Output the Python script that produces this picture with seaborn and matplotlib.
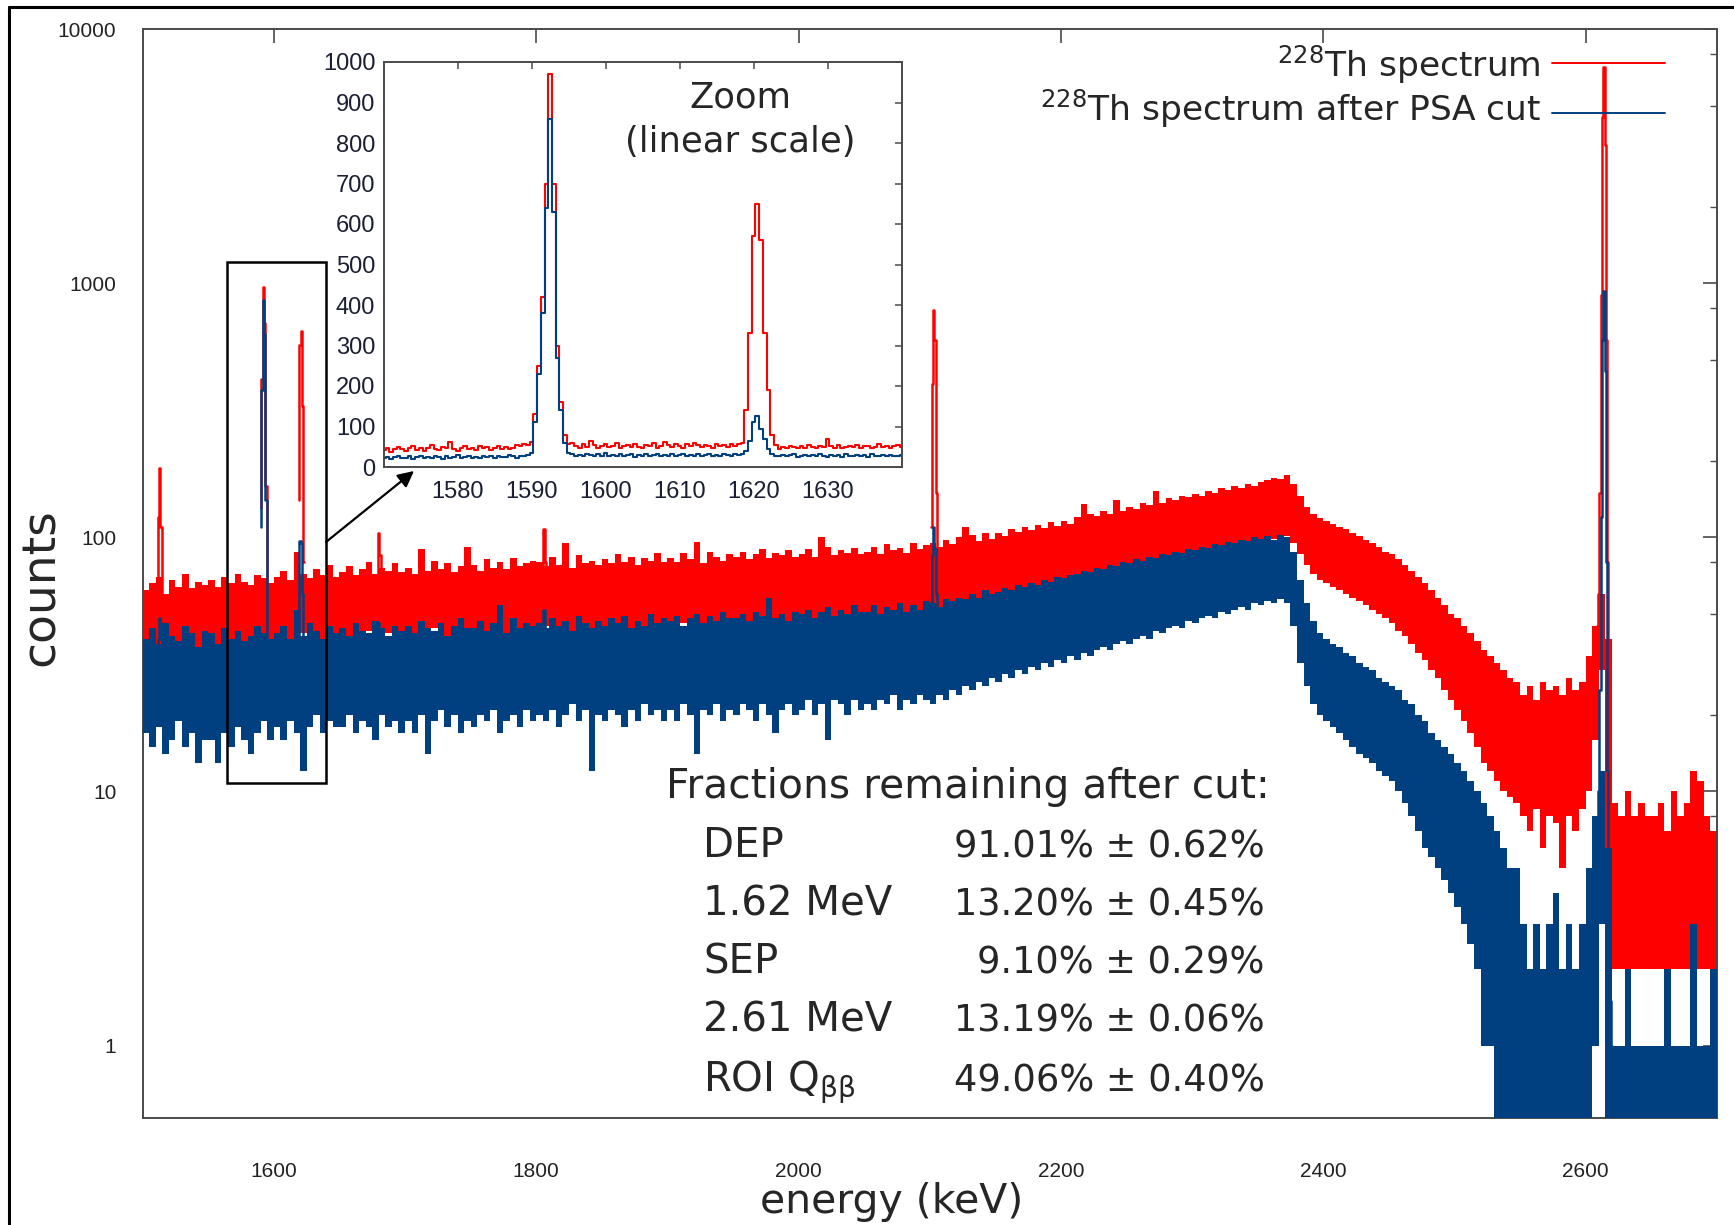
import numpy as np
import matplotlib
matplotlib.use("Agg")
import matplotlib.pyplot as plt
import seaborn as sns
from matplotlib.lines import Line2D
from matplotlib.patches import Rectangle
from matplotlib.ticker import FixedLocator, LogLocator, NullFormatter, NullLocator, FuncFormatter

# ---------------- data ----------------
# main spectrum: 5 keV bins from 1500 to 2700 keV, envelope (min / max counts) of each bin
bin_start_keV = 1500
bin_stop_keV = 2700
bin_width_keV = 5

red_lo = [34, 36, 38, 35, 37, 39, 36, 38, 35, 37,
          38, 36, 32, 37, 40, 38, 36, 39, 33, 40,
          39, 41, 38, 40, 42, 39, 41, 40, 38, 42,
          41, 39, 34, 40, 43, 41, 39, 42, 36, 43,
          42, 40, 43, 41, 44, 42, 40, 43, 41, 44,
          42, 44, 41, 36, 45, 42, 44, 41, 43, 45,
          43, 45, 42, 44, 46, 43, 45, 42, 44, 46,
          44, 42, 45, 43, 38, 44, 42, 45, 43, 46,
          45, 43, 46, 44, 47, 45, 43, 46, 44, 47,
          45, 47, 44, 39, 48, 45, 47, 44, 46, 48,
          46, 48, 45, 47, 49, 46, 48, 45, 47, 49,
          47, 49, 48, 50, 42, 49, 51, 48, 50, 49,
          50, 52, 49, 53, 51, 54, 52, 55, 53, 56,
          55, 57, 56, 58, 60, 59, 61, 60, 62, 64,
          63, 65, 64, 67, 66, 69, 68, 71, 70, 73,
          72, 75, 74, 77, 76, 79, 80, 82, 81, 84,
          84, 87, 86, 89, 90, 92, 91, 94, 95, 97,
          98, 100, 99, 102, 101, 95, 86, 78, 72, 68,
          66, 64, 62, 60, 58, 56, 54, 52, 50, 48,
          46, 43, 41, 38, 35, 33, 30, 28, 25, 23,
          21, 19, 17, 15, 13, 12, 11, 10, 9.5, 9,
          8, 7, 8.5, 6, 8, 7.5, 5, 8, 7, 8.5,
          10, 16, 30, 4, 2, 2, 2, 2, 2, 2,
          2, 2, 2, 2, 2, 2, 2, 2, 2, 2]

red_hi = [62, 66, 70, 60, 68, 64, 72, 63, 67, 65,
          68, 64, 70, 66, 72, 67, 65, 71, 69, 66,
          70, 74, 68, 88, 72, 69, 75, 71, 78, 70,
          73, 77, 71, 75, 80, 72, 76, 74, 79, 73,
          76, 72, 90, 74, 81, 75, 79, 73, 77, 92,
          78, 74, 82, 76, 80, 75, 83, 77, 79, 81,
          80, 77, 84, 78, 95, 76, 85, 79, 81, 78,
          82, 79, 86, 80, 84, 78, 83, 81, 87, 80,
          83, 80, 87, 82, 96, 79, 88, 84, 81, 86,
          84, 88, 82, 86, 90, 83, 87, 85, 89, 84,
          86, 90, 84, 100, 92, 85, 89, 87, 91, 86,
          88, 92, 86, 94, 89, 91, 87, 95, 90, 93,
          95, 92, 98, 94, 100, 110, 102, 97, 104, 99,
          104, 101, 108, 105, 110, 107, 112, 109, 115, 111,
          116, 113, 120, 135, 124, 121, 127, 124, 140, 127,
          132, 129, 136, 134, 152, 137, 143, 140, 146, 144,
          148, 146, 152, 150, 156, 154, 160, 157, 163, 160,
          166, 168, 172, 170, 176, 162, 145, 132, 124, 119,
          116, 113, 110, 108, 104, 101, 98, 95, 92, 88,
          86, 82, 78, 74, 70, 66, 62, 58, 54, 50,
          48, 45, 42, 39, 36, 34, 32, 30, 28, 27,
          24, 26, 23, 27, 25, 26, 24, 28, 25, 27,
          34, 45, 60, 40, 9, 8, 10, 8, 9, 8,
          8, 9, 7, 10, 8, 9, 12, 11, 8, 7]

blue_lo = [17, 15, 18, 14, 16, 19, 15, 17, 13, 16,
           16, 13, 17, 15, 18, 16, 14, 17, 19, 16,
           18, 16, 19, 17, 12, 18, 20, 17, 19, 18,
           18, 20, 17, 19, 18, 16, 20, 18, 19, 17,
           19, 17, 20, 14, 19, 21, 18, 20, 17, 19,
           18, 20, 19, 21, 17, 19, 20, 18, 21, 19,
           20, 19, 21, 18, 20, 22, 19, 21, 12, 20,
           19, 21, 20, 18, 21, 19, 22, 20, 21, 19,
           21, 19, 22, 20, 14, 21, 20, 22, 19, 21,
           20, 22, 21, 19, 22, 20, 17, 21, 22, 20,
           21, 23, 20, 22, 16, 23, 22, 20, 23, 21,
           22, 21, 23, 22, 24, 21, 23, 22, 24, 23,
           22, 24, 23, 25, 24, 26, 25, 27, 26, 28,
           27, 29, 28, 30, 29, 31, 30, 32, 31, 33,
           32, 34, 33, 35, 34, 36, 37, 36, 38, 39,
           38, 40, 41, 40, 43, 42, 44, 45, 44, 47,
           46, 48, 49, 48, 51, 50, 52, 53, 52, 55,
           54, 56, 55, 57, 55, 45, 32, 26, 22, 20,
           19, 18, 17, 16, 15, 14, 13.5, 13, 12, 11.5,
           11, 10, 9, 8, 7, 6, 5.5, 5, 4.5, 4,
           3.5, 3, 2.5, 2, 1, 1, 0.4, 0.4, 0.4, 0.4,
           0.4, 0.4, 0.4, 0.4, 0.4, 0.4, 0.4, 0.4, 0.4, 0.4,
           0.4, 1, 3, 0.4, 0.4, 0.4, 0.4, 0.4, 0.4, 0.4,
           0.4, 0.4, 0.4, 0.4, 0.4, 0.4, 0.4, 0.4, 0.4, 0.4]

blue_hi = [40, 44, 38, 46, 41, 39, 45, 42, 37, 43,
           42, 38, 44, 40, 43, 39, 41, 45, 42, 40,
           42, 45, 40, 52, 41, 46, 43, 40, 45, 42,
           44, 41, 46, 43, 42, 47, 44, 41, 45, 43,
           45, 42, 47, 44, 43, 46, 41, 45, 48, 44,
           44, 47, 43, 46, 54, 42, 48, 44, 46, 45,
           46, 44, 48, 45, 47, 43, 49, 46, 44, 47,
           45, 48, 46, 49, 44, 47, 45, 50, 46, 48,
           47, 49, 45, 48, 50, 46, 49, 47, 51, 48,
           48, 50, 47, 51, 49, 58, 48, 50, 47, 51,
           50, 52, 48, 51, 53, 49, 52, 50, 54, 51,
           51, 54, 50, 53, 52, 55, 51, 54, 52, 56,
           55, 53, 57, 56, 58, 57, 60, 58, 62, 60,
           61, 63, 62, 65, 64, 66, 65, 68, 67, 70,
           69, 71, 72, 74, 73, 76, 75, 78, 77, 80,
           79, 82, 81, 84, 83, 86, 85, 88, 87, 90,
           89, 92, 91, 94, 93, 96, 95, 98, 97, 100,
           99, 101, 98, 102, 100, 88, 68, 55, 47, 42,
           40, 38, 37, 35, 34, 32, 31, 30, 28, 27,
           26, 25, 23, 22, 20, 19, 17, 16, 15, 14,
           13, 12, 11, 10, 9, 8, 7, 6, 5, 5,
           3, 2, 3, 2, 3, 4, 2, 3, 2, 3,
           5, 8, 12, 6, 1, 1, 2, 1, 1, 1,
           1, 1, 2, 1, 1, 1, 3, 1, 1, 2]

# gamma lines, 1 keV bins (keV, counts)
peak_keV = [[1511, 1512, 1513, 1514, 1515],
            [1590, 1591, 1592, 1593, 1594, 1595],
            [1619, 1620, 1621, 1622, 1623],
            [1679, 1680, 1681, 1682],
            [1805, 1806, 1807, 1808],
            [2101, 2102, 2103, 2104, 2105, 2106],
            [2609, 2610, 2611, 2612, 2613, 2614, 2615, 2616, 2617, 2618, 2619, 2620]]
peak_red = [[60, 120, 188, 110, 60],
            [130, 420, 970, 700, 160, 58],
            [140, 570, 650, 330, 80],
            [70, 104, 85, 60],
            [75, 108, 80, 60],
            [110, 400, 785, 600, 150, 90],
            [45, 60, 150, 900, 4500, 7100, 3500, 600, 80, 20, 8, 5]]
peak_blue = [[30, 40, 48, 40, 30],
             [110, 380, 860, 630, 140, 35],
             [40, 97, 95, 60, 32],
             [35, 46, 40, 30],
             [38, 52, 42, 30],
             [55, 85, 110, 90, 60, 50],
             [7, 10, 25, 120, 600, 930, 450, 80, 12, 3, 1.5, 1]]

# zoom inset: 0.5 keV bins 1570 - 1640 keV
inset_start_keV = 1570
inset_step_keV = 0.5
inset_red = [42, 48, 38, 45, 50, 44, 40, 47, 52, 43,
             46, 39, 48, 55, 44, 41, 49, 46, 62, 45,
             40, 47, 51, 44, 48, 42, 53, 46, 49, 43,
             47, 52, 45, 50, 44, 48, 55, 51, 58,
             55, 62, 130, 250, 420, 700, 970, 700, 300, 160, 80, 58,
             60, 52, 48, 56, 50, 63, 54, 47, 51, 58,
             49, 53, 60, 46, 52, 55, 49, 57, 50, 47,
             54, 51, 59, 48, 52, 62, 55, 50, 57, 53,
             48, 56, 51, 60, 54, 49, 55, 52, 47, 58,
             51, 54, 49, 56, 52, 58,
             60, 140, 330, 570, 650, 560, 330, 190, 80, 55,
             45, 50, 47, 53, 49, 46, 52, 48, 55, 50,
             47, 53, 49, 68, 51, 48, 54, 46, 50, 52,
             49, 55, 47, 51, 53, 48, 50, 56, 49, 52,
             48, 51, 54, 50]
inset_blue = [22, 25, 19, 24, 27, 21, 23, 26, 20, 24,
              28, 22, 25, 21, 27, 24, 20, 26, 23, 25,
              29, 22, 24, 27, 21, 25, 23, 28, 24, 26,
              22, 27, 25, 24, 29, 26, 23, 28, 27,
              30, 35, 110, 230, 380, 640, 860, 630, 270, 140, 60, 35,
              32, 28, 30, 26, 33, 29, 27, 31, 28, 34,
              26, 30, 28, 32, 27, 29, 31, 25, 30, 28,
              33, 27, 29, 31, 26, 30, 28, 32, 27, 29,
              31, 26, 30, 28, 33, 27, 29, 31, 28, 30,
              27, 32, 29, 28, 31, 30,
              32, 40, 65, 110, 125, 95, 70, 45, 32, 28,
              27, 30, 26, 29, 31, 25, 28, 30, 27, 29,
              26, 31, 28, 24, 30, 27, 29, 25, 31, 28,
              26, 30, 27, 29, 25, 31, 28, 26, 30, 27,
              29, 26, 28, 30]

# zoom box drawn in the main plot (keV, counts)
box_keV = [1564, 1640]
box_counts = [10.8, 1213]

series_labels = [r"$^{228}$Th spectrum", r"$^{228}$Th spectrum after PSA cut"]

frac_title = "Fractions remaining after cut:"
frac_labels = ["DEP", "1.62 MeV", "SEP", "2.61 MeV", r"ROI Q$_{\mathregular{ββ}}$"]
frac_values = [91.01, 13.20, 9.10, 13.19, 49.06]
frac_errors = [0.62, 0.45, 0.29, 0.06, 0.40]

x_ticks = [1600, 1800, 2000, 2200, 2400, 2600]
inset_x_ticks = [1580, 1590, 1600, 1610, 1620, 1630]
inset_y_ticks = list(range(0, 1001, 100))

# ---------------- style ----------------
RED = "#ff0000"
BLUE = "#003f80"
TICKCOL = "#222222"
SPINE = "#4a4a4a"

sns.set_theme(style="white")
plt.rcParams["font.family"] = ["DejaVu Sans"]
plt.rcParams["mathtext.fontset"] = "dejavusans"

W, H = 1734, 1225
fig = plt.figure(figsize=(W / 100, H / 100), dpi=100)
fig.patch.set_facecolor("white")


def fx(px):
    return px / W


def fy(py):
    return 1 - py / H


# outer frame (left and top edges visible)
fig.add_artist(Line2D([fx(9), fx(9)], [0, fy(7)], color="black", lw=2.2))
fig.add_artist(Line2D([fx(9), 1], [fy(7), fy(7)], color="black", lw=2.2))

ax = fig.add_axes([fx(142.7), fy(1117.7), fx(1716.7 - 142.7), (1117.7 - 29.3) / H])
ax.set_facecolor("white")

edges = np.arange(bin_start_keV, bin_stop_keV + 1, bin_width_keV)
ax.stairs(red_hi, edges, baseline=red_lo, fill=True, color=RED, lw=0, zorder=2)
for e, v in zip(peak_keV, peak_red):
    sns.lineplot(x=e, y=v, ax=ax, color=RED, lw=1.8, drawstyle="steps-mid",
                 estimator=None, sort=False, errorbar=None, legend=False, zorder=2.1)
ax.stairs(blue_hi, edges, baseline=blue_lo, fill=True, color=BLUE, lw=0, zorder=3)
for e, v in zip(peak_keV, peak_blue):
    sns.lineplot(x=e, y=v, ax=ax, color=BLUE, lw=1.8, drawstyle="steps-mid",
                 estimator=None, sort=False, errorbar=None, legend=False, zorder=3.1)

ax.set_xlabel("")
ax.set_ylabel("")
ax.set_xlim(bin_start_keV, bin_stop_keV)
ax.set_yscale("log")
ax.set_ylim(0.52, 10000)
ax.xaxis.set_major_locator(FixedLocator(x_ticks))
ax.xaxis.set_minor_locator(NullLocator())
ax.yaxis.set_major_locator(LogLocator(base=10, numticks=12))
ax.yaxis.set_minor_locator(LogLocator(base=10, subs=[2, 5, 8], numticks=12))
ax.yaxis.set_major_formatter(FuncFormatter(lambda v, p: f"{v:g}"))
ax.yaxis.set_minor_formatter(NullFormatter())
ax.tick_params(which="both", direction="in", top=True, right=True, colors=SPINE,
               labelcolor=TICKCOL, labelsize=15, labelfontfamily="Liberation Sans")
ax.tick_params(which="major", length=10, width=1.2)
ax.tick_params(which="minor", length=5, width=1.0)
ax.tick_params(axis="x", pad=32)
ax.tick_params(axis="y", pad=19)
for s in ax.spines.values():
    s.set_color(SPINE)
    s.set_linewidth(1.4)

ax.add_patch(Rectangle((box_keV[0], box_counts[0]), box_keV[1] - box_keV[0],
                       box_counts[1] - box_counts[0], fill=False, ec="black", lw=1.8, zorder=6))

fig.text(fx(41), fy(587), "counts", rotation=90, ha="center", va="center", fontsize=34)
fig.text(fx(892), fy(1213), "energy (keV)", ha="center", va="baseline", fontsize=29.5)

# legend (text right aligned, sample line on the right)
leg_y_text = [76, 121]
leg_y_line = [63, 113]
for lab, col, yt, yl in zip(series_labels, [RED, BLUE], leg_y_text, leg_y_line):
    fig.text(fx(1541), fy(yt), lab, ha="right", va="baseline", fontsize=24.8)
    fig.add_artist(Line2D([fx(1552), fx(1665)], [fy(yl), fy(yl)], color=col, lw=1.4))

# fractions table
fig.text(fx(666), fy(798), frac_title, ha="left", va="baseline", fontsize=29.3)
row_base = [857, 915, 973, 1032, 1091]
for lab, v, e, yb in zip(frac_labels, frac_values, frac_errors, row_base):
    fig.text(fx(703), fy(yb), lab, ha="left", va="baseline", fontsize=29)
    fig.text(fx(1264.5), fy(yb), f"{v:.2f}% ± {e:.2f}%", ha="right", va="baseline", fontsize=26.5)

# arrow from box to inset
ax.annotate("", xy=(fx(414), fy(471)), xytext=(fx(326), fy(542)),
            xycoords="figure fraction", textcoords="figure fraction",
            arrowprops=dict(arrowstyle="-|>", color="black", lw=1.6, mutation_scale=24,
                            shrinkA=0, shrinkB=0), zorder=7)

# inset
axins = fig.add_axes([fx(383.7), fy(467), fx(901.5 - 383.7), (467 - 62) / H])
axins.set_facecolor("white")
inset_keV = inset_start_keV + inset_step_keV * np.arange(len(inset_red))
sns.lineplot(x=inset_keV, y=inset_red, ax=axins, color=RED, lw=1.5, drawstyle="steps-mid",
             estimator=None, sort=False, errorbar=None, legend=False)
sns.lineplot(x=inset_keV, y=inset_blue, ax=axins, color=BLUE, lw=1.5, drawstyle="steps-mid",
             estimator=None, sort=False, errorbar=None, legend=False)
axins.set_xlim(1570, 1640)
axins.set_ylim(0, 1000)
axins.xaxis.set_major_locator(FixedLocator(inset_x_ticks))
axins.yaxis.set_major_locator(FixedLocator(inset_y_ticks))
axins.tick_params(which="both", direction="in", top=True, right=True, length=5, width=1.1,
                  colors=SPINE, labelcolor="#1a1f33", labelsize=17,
                  labelfontfamily="Liberation Sans")
axins.tick_params(axis="x", pad=10)
axins.tick_params(axis="y", pad=6)
axins.set_xlabel("")
axins.set_ylabel("")
for s in axins.spines.values():
    s.set_color(SPINE)
    s.set_linewidth(1.4)
fig.text(fx(740), fy(97), "Zoom", ha="center", va="center", fontsize=25.5)
fig.text(fx(740), fy(142), "(linear scale)", ha="center", va="center", fontsize=25.5)

fig.savefig("out.png", dpi=100, facecolor="white")
